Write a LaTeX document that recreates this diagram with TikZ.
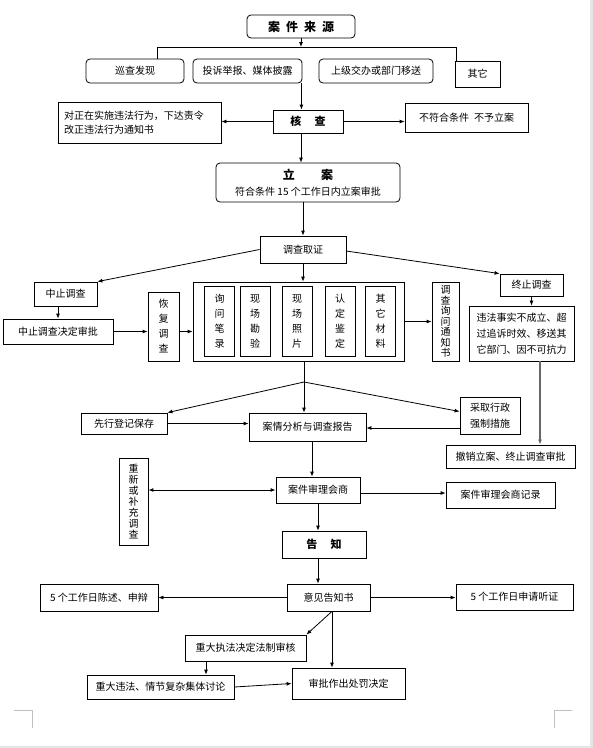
\documentclass[tikz,border=0pt]{standalone}
\usepackage{fontspec}
\setmainfont{Noto Sans CJK SC}
\usetikzlibrary{positioning, arrows.meta, calc}

\tikzset{
    box/.style={draw, line width=0.8pt, inner sep=0pt, align=center, font=\fontsize{10}{16}\selectfont},
    rbox/.style={box, rounded corners=4pt},
    vbox/.style={box, font=\fontsize{10}{15}\selectfont},
    tallbox/.style={box, font=\fontsize{10}{10.5}\selectfont},
    ln/.style={line width=0.8pt},
    arr/.style={line width=0.8pt, -{Latex[length=5pt,width=4pt]}},
}

\begin{document}
\begin{tikzpicture}[x=1pt, y=-1pt]
    \useasboundingbox (0,0) rectangle (593,748);
    \fill[gray!20] (590,0) rectangle (593,748);
    \fill[gray!20] (0,746) rectangle (593,748);

    \node[rbox, minimum width=108, minimum height=23, font=\fontsize{12}{14}\bfseries] (src) at (301,26.5) {案\hspace{6pt}件\hspace{6pt}来\hspace{6pt}源};
    \coordinate (barL) at (157,47);
    \coordinate (barR) at (456,47);
    \node[rbox, minimum width=98, minimum height=24] (patrol) at (135,71) {巡查发现};
    \node[rbox, minimum width=109, minimum height=24] (report) at (247.5,71) {投诉举报、媒体披露};
    \node[rbox, minimum width=114, minimum height=24] (transfer) at (376,71) {上级交办或部门移送};
    \node[box, minimum width=45, minimum height=26] (other) at (477.5,74) {其它};
    \draw[arr] (src.south) -- (src.south |- barL);
    \draw[ln] (barL) -- (barR);
    \draw[ln] (barL) -- (barL |- patrol.north);
    \draw[ln] (barR) -- (barR |- other.north);

    \node[box, minimum width=70, minimum height=23, font=\fontsize{11}{13}\bfseries] (check) at (308,121.5) {核\hspace{1.2em}查};
    \node[box, minimum width=163, minimum height=41, text width=151, align=left, font=\fontsize{10}{14}\selectfont] (order) at (139.5,122.5) {对正在实施违法行为，下达责令\\改正违法行为通知书};
    \node[box, minimum width=123, minimum height=29] (reject) at (466.5,117.5) {不符合条件\hspace{0.5em}不予立案};
    \draw[arr] ([xshift=-1pt]report.south east) -- ([xshift=-1pt]report.south east |- check.north);
    \draw[arr] (check.west) -- (check.west -| order.east);
    \draw[arr] (check.east) -- (check.east -| reject.west);

    \node[rbox, minimum width=184, minimum height=39] (file) at (308,182.5) {{\fontsize{12}{14}\bfseries 立\hspace{2.2em}案}\\符合条件 15 个工作日内立案审批};
    \draw[arr] ([xshift=-7pt]check.south) -- ([xshift=-7pt]check.south |- file.north);

    \node[box, minimum width=86, minimum height=27] (investigate) at (303,249.5) {调查取证};
    \draw[arr] (file.south -| investigate.north) -- (investigate.north);

    \node[box, minimum width=63, minimum height=24] (suspend) at (65.5,294) {中止调查};
    \node[box, minimum width=110, minimum height=25] (halt) at (58,331.5) {中止调查决定审批};
    \node[vbox, minimum width=31, minimum height=69] (resume) at (163.5,326.5) {恢\\复\\调\\查};
    \node[box, minimum width=211, minimum height=79] (evidence) at (298.5,321.5) {};
    \foreach \cx/\txt [count=\i] in {219.5/询\\问\\笔\\录, 255/现\\场\\勘\\验, 297/现\\场\\照\\片, 340/认\\定\\鉴\\定, 380.5/其\\它\\材\\料}
        \node[vbox, minimum width=30, minimum height=70] (ev\i) at (\cx,321) {\txt};
    \node[tallbox, minimum width=27, minimum height=79] (notice) at (445.5,321.5) {调\\查\\询\\问\\通\\知\\书};
    \node[box, minimum width=63, minimum height=22] (terminate) at (531.5,285) {终止调查};
    \node[box, minimum width=105, minimum height=55] (cease) at (521.5,333.5) {违法事实不成立、超\\过追诉时效、移送其\\它部门、因不可抗力};

    \draw[arr] (investigate.west) -- (suspend.north east);
    \draw[arr] ([yshift=-1.5pt]investigate.east) -- (terminate.north west);
    \draw[arr] (investigate.south) -- (investigate.south |- evidence.north);
    \draw[arr] (suspend.south -| halt.north) -- (halt.north);
    \draw[arr] (halt.east) -- (halt.east -| resume.west);
    \draw[arr] (halt.east -| resume.east) -- (halt.east -| evidence.west);
    \draw[arr] (evidence.east) -- (evidence.east -| notice.west);
    \draw[arr] (terminate.south) -- (terminate.south |- cease.north);

    \coordinate (fork) at (304,382);
    \node[box, minimum width=86, minimum height=21] (keep) at (124,423.5) {先行登记保存};
    \node[box, minimum width=117, minimum height=28] (analysis) at (307.5,427) {案情分析与调查报告};
    \node[box, minimum width=60, minimum height=37] (enforce) at (490,415.5) {采取行政\\强制措施};
    \node[box, minimum width=129, minimum height=23] (revoke) at (510.5,456.5) {撤销立案、终止调查审批};
    \draw[ln] (evidence.south -| fork) -- (fork);
    \draw[arr] (fork) -- (keep.north east);
    \draw[arr] (fork) -- (fork |- analysis.north);
    \draw[arr] (fork) -- ([yshift=4pt]enforce.west);
    \draw[arr] (keep.east) -- (keep.east -| analysis.west);
    \draw[arr] ([yshift=-12.5pt]enforce.west) -- ([yshift=-12.5pt]enforce.west -| analysis.east);
    \draw[line width=1.1pt, draw=gray!80!black, -{Latex[length=5pt,width=4pt]}, fill=gray!80!black] ([xshift=18.5pt]cease.south) -- ([xshift=18.5pt]cease.south |- revoke.north);

    \node[box, minimum width=84, minimum height=26] (review) at (318,490) {案件审理会商};
    \node[tallbox, minimum width=29, minimum height=87, font=\fontsize{10}{11}\selectfont] (redo) at (133.5,501.5) {重\\新\\或\\补\\充\\调\\查};
    \node[box, minimum width=109, minimum height=26] (record) at (500.5,495) {案件审理会商记录};
    \node[box, minimum width=84, minimum height=27, font=\fontsize{11}{13}\bfseries] (notify) at (324,544.5) {告\hspace{1.2em}知};
    \draw[arr] ([xshift=4.5pt]analysis.south) -- ([xshift=4.5pt]analysis.south |- review.north);
    \draw[line width=1pt, {Latex[length=5pt,width=4pt]}-{Latex[length=5pt,width=4pt]}] (review.west) -- (review.west -| redo.east);
    \draw[arr] ([yshift=-3pt]review.east) -- ([yshift=-3pt]review.east -| record.west);
    \draw[arr] (review.south) -- (review.south |- notify.north);

    \node[box, minimum width=83, minimum height=27] (opinion) at (328.5,597.5) {意见告知书};
    \node[box, minimum width=118, minimum height=27] (state) at (99,597.5) {5 个工作日陈述、申辩};
    \node[box, minimum width=117, minimum height=26] (hearing) at (514.5,597) {5 个工作日申请听证};
    \node[box, minimum width=121, minimum height=26] (legal) at (245.5,648) {重大执法决定法制审核};
    \node[box, minimum width=147, minimum height=24] (discuss) at (160.5,687) {重大违法、情节复杂集体讨论};
    \node[box, minimum width=113, minimum height=31] (decide) at (348.5,683.5) {审批作出处罚决定};
    \draw[arr] (review.south |- notify.south) -- (review.south |- opinion.north);
    \draw[arr] (opinion.west) -- (opinion.west -| state.east);
    \draw[arr] (opinion.east) -- (opinion.east -| hearing.west);
    \draw[arr] ([xshift=3.5pt]opinion.south) -- (legal.north east);
    \draw[arr] ([xshift=3.5pt]opinion.south) -- ([xshift=3.5pt]opinion.south |- decide.north);
    \draw[arr] ([xshift=-39.5pt]legal.south) -- ([xshift=-39.5pt]legal.south |- discuss.north);
    \draw[arr] (discuss.east) -- (decide.west);

    \draw[gray!50, line width=0.8pt] (14,710) -- (32,710) -- (32,728);
    \draw[gray!50, line width=0.8pt] (572,710) -- (554,710) -- (554,728);
\end{tikzpicture}
\end{document}
